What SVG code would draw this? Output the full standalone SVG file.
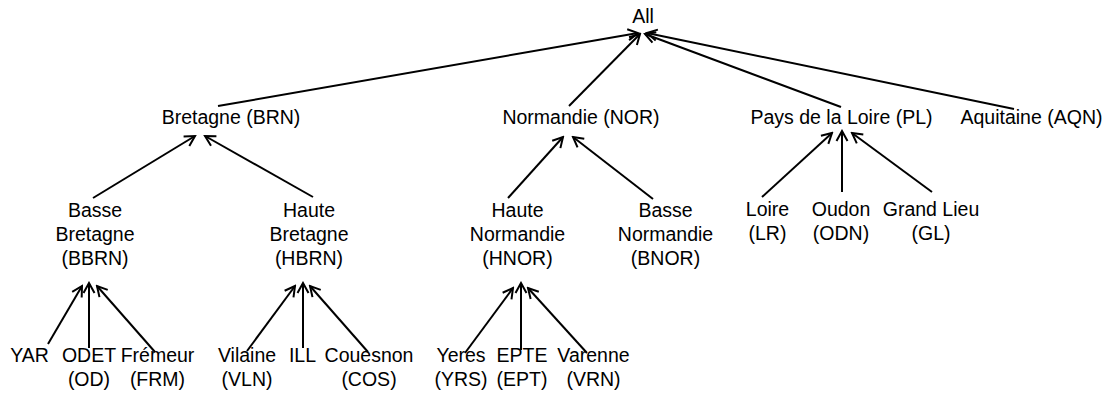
<svg xmlns="http://www.w3.org/2000/svg" width="1115" height="401" viewBox="0 0 1115 401">
<style>
text{font-family:"Liberation Sans",Arial,sans-serif;font-size:19.5px;fill:#000;text-anchor:middle}
.e{stroke:#000;stroke-width:2;fill:none;marker-end:url(#ah)}
</style>
<defs>
<marker id="ah" markerUnits="userSpaceOnUse" viewBox="-12 -7 14 14" markerWidth="14" markerHeight="14" refX="0" refY="0" orient="auto">
<path d="M-10,-5.5 L0,0 L-10,5.5" fill="none" stroke="#000" stroke-width="2" stroke-linejoin="miter"/>
</marker>
</defs>
<rect width="1115" height="401" fill="#fff"/>
<g id="connectors">
<line class="e" x1="218" y1="106" x2="638" y2="33"/>
<line class="e" x1="569" y1="106" x2="640" y2="34"/>
<line class="e" x1="841" y1="107" x2="645" y2="34"/>
<line class="e" x1="1014" y1="109" x2="647" y2="33"/>
<line class="e" x1="93" y1="198" x2="195" y2="136"/>
<line class="e" x1="313" y1="197" x2="205" y2="136"/>
<line class="e" x1="508" y1="198" x2="563" y2="137"/>
<line class="e" x1="653" y1="199" x2="573" y2="137"/>
<line class="e" x1="762" y1="197" x2="832" y2="133"/>
<line class="e" x1="842" y1="192" x2="842" y2="131"/>
<line class="e" x1="932" y1="192" x2="852" y2="133"/>
<line class="e" x1="48" y1="344" x2="82" y2="286"/>
<line class="e" x1="89" y1="348" x2="89" y2="283"/>
<line class="e" x1="155" y1="352" x2="97" y2="286"/>
<line class="e" x1="247" y1="351" x2="295" y2="286"/>
<line class="e" x1="303" y1="348" x2="303" y2="283"/>
<line class="e" x1="368" y1="352" x2="310" y2="286"/>
<line class="e" x1="465" y1="353" x2="513" y2="288"/>
<line class="e" x1="521" y1="350" x2="521" y2="283"/>
<line class="e" x1="587" y1="353" x2="528" y2="288"/>
</g>
<g id="all"><text x="643" y="23">All</text></g>
<g id="brn"><text x="231" y="124">Bretagne (BRN)</text></g>
<g id="nor"><text x="581" y="124">Normandie (NOR)</text></g>
<g id="pl"><text x="841.5" y="124">Pays de la Loire (PL)</text></g>
<g id="aqn"><text x="1031.5" y="124">Aquitaine (AQN)</text></g>
<g id="bbrn"><text x="95" y="216.5">Basse</text><text x="95" y="240.5">Bretagne</text><text x="95" y="264.5">(BBRN)</text></g>
<g id="hbrn"><text x="309" y="216.5">Haute</text><text x="309" y="240.5">Bretagne</text><text x="309" y="264.5">(HBRN)</text></g>
<g id="hnor"><text x="517.5" y="216.5">Haute</text><text x="517.5" y="240.5">Normandie</text><text x="517.5" y="264.5">(HNOR)</text></g>
<g id="bnor"><text x="665.5" y="216.5">Basse</text><text x="665.5" y="240.5">Normandie</text><text x="665.5" y="264.5">(BNOR)</text></g>
<g id="lr"><text x="767.5" y="216">Loire</text><text x="767.5" y="239.5">(LR)</text></g>
<g id="odn"><text x="841" y="216">Oudon</text><text x="841" y="239.5">(ODN)</text></g>
<g id="gl"><text x="931" y="216">Grand Lieu</text><text x="931" y="239.5">(GL)</text></g>
<g id="yar"><text x="29.5" y="362">YAR</text></g>
<g id="od"><text x="89" y="362">ODET</text><text x="89" y="385.5">(OD)</text></g>
<g id="frm"><text x="157.5" y="362">Frémeur</text><text x="157.5" y="385.5">(FRM)</text></g>
<g id="vln"><text x="247" y="362">Vilaine</text><text x="247" y="385.5">(VLN)</text></g>
<g id="ill"><text x="302.5" y="362">ILL</text></g>
<g id="cos"><text x="369" y="362">Couesnon</text><text x="369" y="385.5">(COS)</text></g>
<g id="yrs"><text x="461" y="362">Yeres</text><text x="461" y="385.5">(YRS)</text></g>
<g id="ept"><text x="522" y="362">EPTE</text><text x="522" y="385.5">(EPT)</text></g>
<g id="vrn"><text x="593.5" y="362">Varenne</text><text x="593.5" y="385.5">(VRN)</text></g>
</svg>
